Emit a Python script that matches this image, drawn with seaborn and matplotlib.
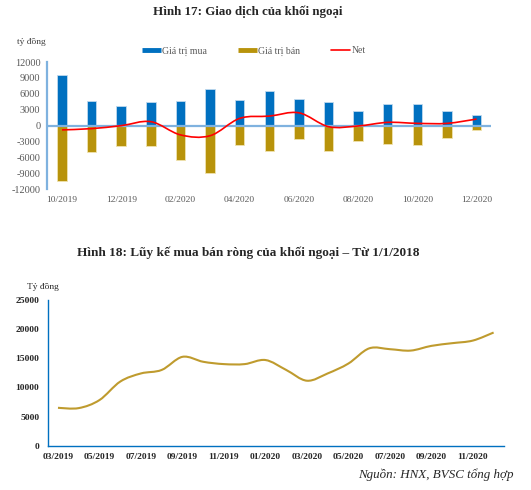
import numpy as np
import pandas as pd
import matplotlib
matplotlib.use('Agg')
import matplotlib.pyplot as plt
from matplotlib.path import Path
from matplotlib.patches import PathPatch
from matplotlib.lines import Line2D
import seaborn as sns

# Figure 17: foreign trading by month
months_17 = ['10/2019', '11/2019', '12/2019', '01/2020', '02/2020', '03/2020', '04/2020',
             '05/2020', '06/2020', '07/2020', '08/2020', '09/2020', '10/2020', '11/2020', '12/2020']
buy_value = [9600, 4560, 3750, 4500, 4600, 6940, 4800, 6560, 4940, 4500, 2690, 4100, 4100, 2750, 2060]
sell_value = [-10430, -5030, -3850, -3850, -6400, -8880, -3600, -4840, -2600, -4720, -2920, -3480, -3730, -2300, -870]
net_value = [-800, -560, 0, 750, -1740, -1900, 1370, 1800, 2420, -190, -60, 620, 430, 430, 1240]
yticks_17 = [12000, 9000, 6000, 3000, 0, -3000, -6000, -9000, -12000]

# Figure 18: cumulative net buying
months_18 = ['03/2019', '04/2019', '05/2019', '06/2019', '07/2019', '08/2019', '09/2019', '10/2019',
             '11/2019', '12/2019', '01/2020', '02/2020', '03/2020', '04/2020', '05/2020', '06/2020',
             '07/2020', '08/2020', '09/2020', '10/2020', '11/2020', '12/2020']
cum_net = [6500, 6450, 7830, 11000, 12400, 13000, 15250, 14400, 14000, 14000, 14700, 13000,
           11150, 12400, 14100, 16700, 16560, 16320, 17130, 17590, 18040, 19420]
yticks_18 = [0, 5000, 10000, 15000, 20000, 25000]

BLUE = '#0070C0'
GOLD = '#B8930B'
LINE_GOLD = '#BF9B2E'
AXIS_LB = '#7FB2DF'
GREY = '#595959'

sns.set_style('white')
plt.rcParams['font.family'] = ['Liberation Serif', 'DejaVu Serif']


def smooth_path(xs, ys):
    # Excel-like smoothed line as cubic bezier segments through the data points
    pts = np.column_stack([xs, ys]).astype(float)
    n = len(pts)
    verts = [pts[0]]
    codes = [Path.MOVETO]
    for i in range(n - 1):
        p0 = pts[i - 1] if i > 0 else pts[i]
        p1 = pts[i]
        p2 = pts[i + 1]
        p3 = pts[i + 2] if i + 2 < n else pts[i + 1]
        c1 = p1 + (p2 - p0) / 6.0
        c2 = p2 - (p3 - p1) / 6.0
        verts += [c1, c2, p2]
        codes += [Path.CURVE4] * 3
    return Path(verts, codes)


W, H = 531, 490
fig = plt.figure(figsize=(W / 100, H / 100), dpi=100)
fig.patch.set_facecolor('white')


def px_axes(left, top, right, bottom):
    return fig.add_axes([left / W, 1 - bottom / H, (right - left) / W, (bottom - top) / H])


# ---------- Figure 17 ----------
fig.text(248 / W, 1 - 12 / H, 'Hình 17: Giao dịch của khối ngoại', ha='center', va='center',
         fontsize=9.4, fontweight='bold')
fig.text(17 / W, 1 - 42 / H, 'tỷ đồng', ha='left', va='center', fontsize=6.8, color='#404040')

ax1 = px_axes(47.2, 62, 491.4, 189.3)
df17 = pd.DataFrame({'month': months_17, 'buy': buy_value, 'sell': sell_value})
sns.barplot(data=df17, x='month', y='buy', color=BLUE, saturation=1, width=0.32,
            edgecolor='#BFD9EE', linewidth=0.6, ax=ax1, zorder=2)
sns.barplot(data=df17, x='month', y='sell', color=GOLD, saturation=1, width=0.32,
            edgecolor='#F0E3B0', linewidth=0.6, ax=ax1, zorder=2)
ax1.axhline(0, color=AXIS_LB, lw=1.6, zorder=3)
ax1.add_patch(PathPatch(smooth_path(np.arange(len(net_value)), net_value), facecolor='none',
                        edgecolor='#FF0000', lw=1.2, zorder=4))
ax1.set_xlim(-0.5, len(months_17) - 0.5)
ax1.set_ylim(-12000, 12000)
ax1.set_yticks(yticks_17)
ax1.set_yticklabels([str(v) for v in yticks_17])
ax1.set_xticks(range(0, len(months_17), 2))
ax1.set_xticklabels(months_17[::2])
ax1.set_xlabel('')
ax1.set_ylabel('')
ax1.tick_params(axis='both', length=0, labelsize=6.8, labelcolor=GREY)
ax1.tick_params(axis='y', pad=5, labelsize=7.4)
ax1.tick_params(axis='x', pad=5)
for s in ['top', 'right', 'bottom']:
    ax1.spines[s].set_visible(False)
ax1.spines['left'].set_color(AXIS_LB)
ax1.spines['left'].set_linewidth(1.6)

handles = [Line2D([], [], color=BLUE, lw=3.5, solid_capstyle='butt'),
           Line2D([], [], color=GOLD, lw=3.5, solid_capstyle='butt'),
           Line2D([], [], color='#FF0000', lw=1.2)]
fig.legend(handles, ['Giá trị mua', 'Giá trị bán', 'Net'], loc='center',
           bbox_to_anchor=(254 / W, 1 - 51 / H), ncol=3, frameon=False, fontsize=7.0,
           handlelength=1.9, handletextpad=0.15, columnspacing=3.2, labelcolor=GREY)

# ---------- Figure 18 ----------
fig.text(248 / W, 1 - 253 / H, 'Hình 18: Lũy kế mua bán ròng của khối ngoại – Từ 1/1/2018',
         ha='center', va='center', fontsize=9.5, fontweight='bold')
fig.text(27 / W, 1 - 287 / H, 'Tỷ đồng', ha='left', va='center', fontsize=6.8)

ax2 = px_axes(47.6, 300, 504, 445.7)
ax2.add_patch(PathPatch(smooth_path(np.arange(len(cum_net)), cum_net), facecolor='none',
                        edgecolor=LINE_GOLD, lw=1.5, zorder=3))
ax2.set_xlim(-0.5, len(months_18) - 0.5)
ax2.set_ylim(0, 25000)
ax2.set_yticks(yticks_18)
ax2.set_yticklabels([str(v) for v in yticks_18])
ax2.set_xticks(range(0, len(months_18), 2))
ax2.set_xticklabels(months_18[::2])
ax2.tick_params(axis='both', length=0, labelsize=6.8, labelcolor='#262626')
ax2.tick_params(axis='y', pad=6)
ax2.tick_params(axis='x', pad=5)
for lbl in ax2.get_xticklabels() + ax2.get_yticklabels():
    lbl.set_fontweight('bold')
for s in ['top', 'right']:
    ax2.spines[s].set_visible(False)
for s in ['left', 'bottom']:
    ax2.spines[s].set_color(BLUE)
    ax2.spines[s].set_linewidth(1.0)

fig.text(514 / W, 1 - 475 / H, 'Nguồn: HNX, BVSC tổng hợp', ha='right', va='center',
         fontsize=9.4, style='italic')

fig.savefig('out.png', dpi=100, facecolor='white')
